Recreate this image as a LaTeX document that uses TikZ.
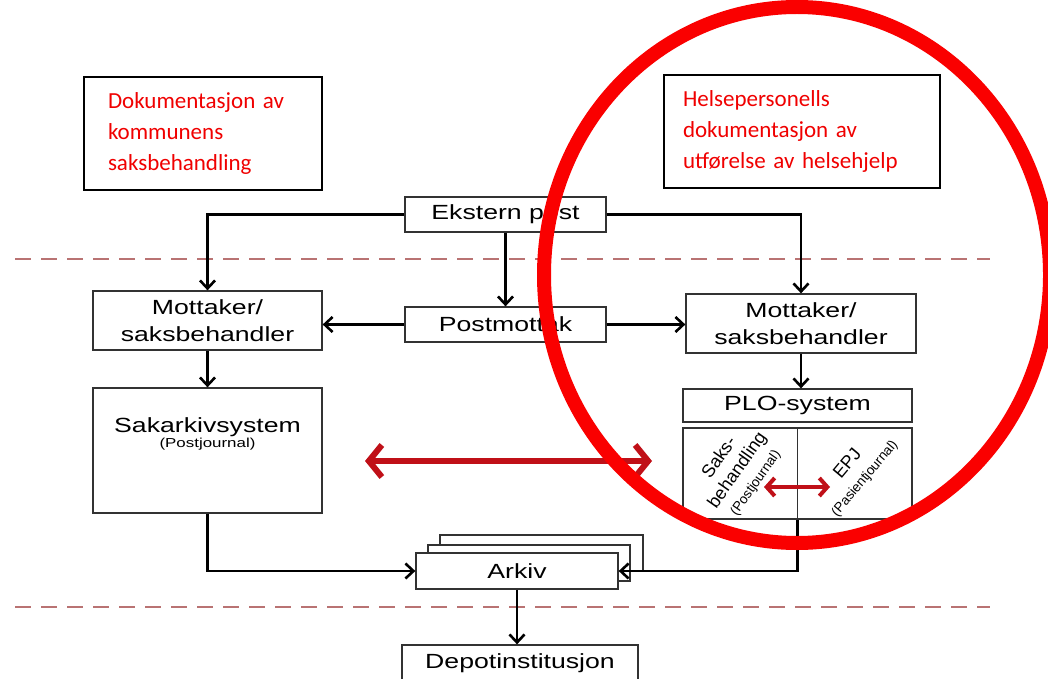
\documentclass[tikz,border=0pt]{standalone}
\usepackage{fontspec}
\setmainfont{Liberation Sans}
\newfontfamily\bxfont[FakeStretch=1.3]{Liberation Sans}
\newfontfamily\plainfont{Liberation Sans}
\newfontfamily\redfont{Carlito}
\usetikzlibrary{arrows.meta}
\definecolor{boxline}{RGB}{50,50,50}
\definecolor{dashcol}{RGB}{185,115,115}
\definecolor{arrred}{RGB}{192,16,24}
\definecolor{ringred}{RGB}{250,0,0}
\definecolor{redtext}{RGB}{240,0,0}
\begin{document}
\begin{tikzpicture}[x=1pt,y=-1pt,
  bx/.style={draw=boxline,line width=1.3pt,fill=white,inner sep=0pt,align=center,
     font=\bxfont\fontsize{20.5}{27}\selectfont},
  redbox/.style={draw=black,line width=1.5pt,fill=white,inner xsep=24pt,align=left,
     text=redtext,font=\redfont\fontsize{23}{31}\selectfont},
  arr/.style={line width=2.6pt,-{Straight Barb[length=8pt,width=15pt]}},
  bigarr/.style={line width=6pt,arrred,{Straight Barb[length=13pt,width=32pt]}-{Straight Barb[length=13pt,width=32pt]}},
  smallarr/.style={line width=4pt,arrred,{Straight Barb[length=8pt,width=18pt]}-{Straight Barb[length=8pt,width=18pt]}},
  sep/.style={dashcol,line width=1.3pt,dash pattern=on 16pt off 10pt},
  rot/.style={align=center,inner sep=0pt,font=\plainfont\fontsize{18}{22}\selectfont}
]
\useasboundingbox (0,0) rectangle (1048,679);
\clip (0,0) rectangle (1048,679);
\fill[white] (0,0) rectangle (1048,679);

% separators
\draw[sep] (15,259) -- (990,259);
\draw[sep] (15,607) -- (990,607);

% red title boxes
\node[redbox,text width=190pt,minimum height=113pt] (t1) at (203,133.5)
  {Dokumentasjon av\\kommunens\\saksbehandling};
\node[redbox,text width=238pt,inner xsep=19pt,minimum height=113pt] (t2) at (802,131.5)
  {Helsepersonells\\dokumentasjon av\\utførelse av helsehjelp};

% boxes
\node[bx,minimum width=201pt,minimum height=35pt] (ek) at (505.5,214.5) {Ekstern post};
\node[bx,minimum width=229pt,minimum height=59pt] (ml) at (207.5,320.5) {Mottaker/\\saksbehandler};
\node[bx,minimum width=201pt,minimum height=35pt] (pm) at (505.5,324.5) {Postmottak};
\node[bx,minimum width=230pt,minimum height=59pt] (mr) at (801,323.5) {Mottaker/\\saksbehandler};
\node[bx,minimum width=229pt,minimum height=125pt] (sak) at (207.5,450.5) {};
\node[align=center,inner sep=0pt] (sakt) at (207.5,434)
  {{\bxfont\fontsize{20.5}{22}\selectfont Sakarkivsystem}\\[1pt]{\bxfont\fontsize{13}{15}\selectfont (Postjournal)}};
\node[bx,minimum width=229pt,minimum height=33pt] (plo) at (797.5,405.5) {PLO-system};
\node[bx,minimum width=229pt,minimum height=91pt] (split) at (797.5,473.5) {};
\draw[boxline,line width=1.3pt] (split.north) -- (split.south);
\node[rot,rotate=55] (saks) at (737,470)
  {Saks-\\behandling\\[-1pt]{\fontsize{13.5}{15}\selectfont(Postjournal)}};
\node[rot,rotate=50] (epj) at (856,471)
  {EPJ\\[-1pt]{\fontsize{13.5}{15}\selectfont(Pasientjournal)}};

% archive stack
\node[bx,minimum width=203pt,minimum height=36pt] (ark3) at (541.5,553) {};
\node[bx,minimum width=202pt,minimum height=36pt] (ark2) at (529,563) {};
\node[bx,minimum width=202pt,minimum height=36pt] (ark) at (517,571) {Arkiv};
\node[bx,minimum width=236pt,minimum height=36pt] (dep) at (520,663) {Depotinstitusjon};

% connectors
\draw[arr] (ek.west) -| (ml.north);
\draw[arr] (ek.east) -| (mr.north);
\draw[arr] (ek.south) -- (pm.north);
\draw[arr] (pm.west) -- (pm.west -| ml.east);
\draw[arr] (pm.east) -- (pm.east -| mr.west);
\draw[arr] (ml.south) -- (sak.north);
\draw[arr] (mr.south) -- (mr.south |- plo.north);
\draw[arr] (sak.south) |- (ark.west);
\draw[arr] (split.south) |- (ark.east);
\draw[arr] (ark.south) -- (ark.south |- dep.north);

% red double arrows
\coordinate (ba1) at (365,461);
\coordinate (ba2) at (652,461);
\draw[bigarr] (ba1) -- (ba2);
\coordinate (sa1) at (764,487);
\coordinate (sa2) at (830,487);
\draw[smallarr] (sa1) -- (sa2);

% ring
\draw[ringred,line width=14pt] (797,275) ellipse [x radius=253, y radius=268];
\end{tikzpicture}
\end{document}
